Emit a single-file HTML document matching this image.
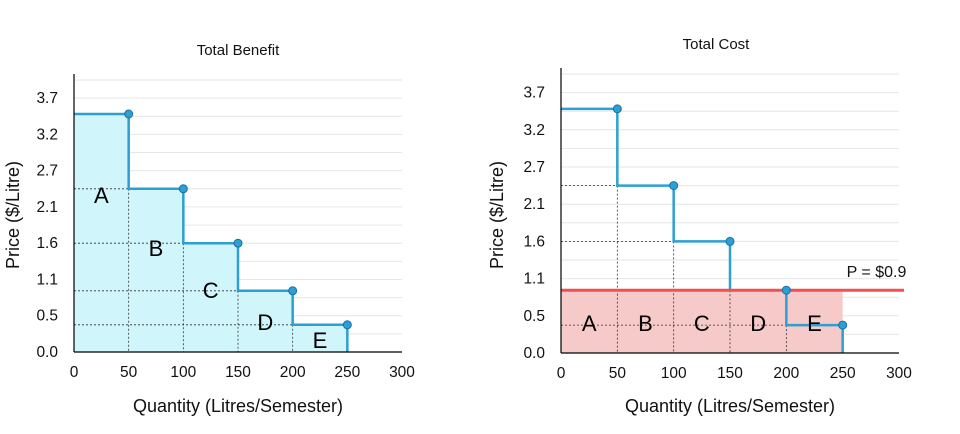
<!DOCTYPE html>
<html><head><meta charset="utf-8"><style>
body{margin:0;background:#fff;}
svg{display:block;font-family:"Liberation Sans",sans-serif;}
</style></head><body>
<svg id="svg" width="960" height="434"></svg>
<script>
const quantities=[50,100,150,200,250];
const prices=[3.5,2.4,1.6,0.9,0.4];
const areaLabels=["A","B","C","D","E"];
const yTickLabels=["0.0","0.5","1.1","1.6","2.1","2.7","3.2","3.7"];
const xTickLabels=[0,50,100,150,200,250,300];
const marketPrice=[0.9];

const NS="http://www.w3.org/2000/svg";
const svg=document.getElementById('svg');
function mk(tag,attrs,parent,name){const e=document.createElementNS(NS,tag);for(const k in attrs)e.setAttribute(k,attrs[k]);


(parent||svg).appendChild(e);return e;}

function drawChart(cfg){
  const g=mk('g',{},svg,cfg.name);
  const X=v=>cfg.x0+(v/300)*(cfg.x1-cfg.x0);
  const Y=v=>cfg.y0-(v/4)*(cfg.y0-cfg.y1);
  const step=3.7333/7;
  for(let i=1;i<=15;i++){const v=i*step/2;if(v>4.01)break;
    mk('line',{x1:X(0),x2:X(300),y1:Y(v),y2:Y(v),stroke:'#e6e6e6','stroke-width':1},g,'gridline');}
  if(cfg.type==='benefit'){
    let d=`M${X(0)},${Y(0)}`;let prev=0;
    quantities.forEach((q,i)=>{d+=` L${X(prev)},${Y(prices[i])} L${X(q)},${Y(prices[i])}`;prev=q;});
    d+=` L${X(prev)},${Y(0)} Z`;
    mk('path',{d:d,fill:'#d0f5fb'},g,'benefit-area');
  } else {
    mk('rect',{x:X(0),y:Y(marketPrice[0]),width:X(quantities[quantities.length-1])-X(0),height:Y(0)-Y(marketPrice[0]),fill:'#f7caca'},g,'cost-area');
  }
  quantities.forEach((q,i)=>{
    if(i>0) mk('line',{x1:X(0),x2:X(q),y1:Y(prices[i]),y2:Y(prices[i]),stroke:'#333','stroke-width':0.8,'stroke-dasharray':'2,2'},g,'guide-horizontal');
    if(i<quantities.length-1) mk('line',{x1:X(q),x2:X(q),y1:Y(prices[i+1]),y2:Y(0),stroke:'#333','stroke-width':0.8,'stroke-dasharray':'2,2'},g,'guide-vertical');
  });
  let d=`M${X(0)},${Y(prices[0])}`;let prev=0;
  quantities.forEach((q,i)=>{if(i>0)d+=` L${X(prev)},${Y(prices[i])}`;d+=` L${X(q)},${Y(prices[i])}`;prev=q;});
  d+=` L${X(prev)},${Y(0)}`;
  mk('path',{d:d,fill:'none',stroke:'#2c9fd3','stroke-width':2.5},g,'step-line');
  if(cfg.type==='cost'){
    mk('line',{x1:X(0),x2:X(300)+5,y1:Y(marketPrice[0]),y2:Y(marketPrice[0]),stroke:'#f05050','stroke-width':3},g,'price-line');
    const t=mk('text',{x:X(280),y:Y(marketPrice[0])-13,'font-size':16,'text-anchor':'middle',fill:'#111'},g,'price-label');t.textContent='P = $'+marketPrice[0];
  }
  quantities.forEach((q,i)=>mk('circle',{cx:X(q),cy:Y(prices[i]),r:4,fill:'#2c9fd3',stroke:'#1d6fa5','stroke-width':1},g,'data-point'));
  mk('line',{x1:X(0),x2:X(0),y1:cfg.y1-6,y2:Y(0),stroke:'#000','stroke-width':1.2},g,'y-axis');
  mk('line',{x1:X(0),x2:X(300),y1:Y(0),y2:Y(0),stroke:'#000','stroke-width':1.2},g,'x-axis');
  yTickLabels.forEach((l,i)=>{const t=mk('text',{x:X(0)-16,y:Y(i*step)+5,'font-size':15.5,'text-anchor':'end',fill:'#111'},g,'y-tick-label');t.textContent=l;});
  xTickLabels.forEach(v=>{const t=mk('text',{x:X(v),y:Y(0)+25,'font-size':15.5,'text-anchor':'middle',fill:'#111'},g,'x-tick-label');t.textContent=v;});
  areaLabels.forEach((l,i)=>{
    const prevQ=i===0?0:quantities[i-1];
    const cx=X((prevQ+quantities[i])/2);
    const cy=cfg.type==='benefit'?[195,248,290,322,340][i]:323;
    const t=mk('text',{x:cx,y:cy+8,'font-size':22,'text-anchor':'middle',fill:'#000'},g,'area-label-'+l.toLowerCase());t.textContent=l;});
  const tt=mk('text',{x:cfg.titleX,y:cfg.titleY,'font-size':15,'text-anchor':'middle',fill:'#111'},g,'chart-title');tt.textContent=cfg.title;
  const xt=mk('text',{x:(X(0)+X(300))/2,y:412,'font-size':18,'text-anchor':'middle',fill:'#111'},g,'x-axis-title');xt.textContent='Quantity (Litres/Semester)';
  const yt=mk('text',{x:0,y:0,'font-size':18,'text-anchor':'middle',fill:'#111',transform:`translate(${cfg.yTitleX},${cfg.yTitleY}) rotate(-90)`},g,'y-axis-title');yt.textContent='Price ($/Litre)';
}
drawChart({name:'total-benefit-chart',type:'benefit',x0:74,x1:402,y0:352,y1:80,title:'Total Benefit',titleX:238,titleY:55,yTitleX:19,yTitleY:215});
drawChart({name:'total-cost-chart',type:'cost',x0:561,x1:899,y0:353,y1:74,title:'Total Cost',titleX:716,titleY:49,yTitleX:503,yTitleY:215});
</script>
</body></html>
